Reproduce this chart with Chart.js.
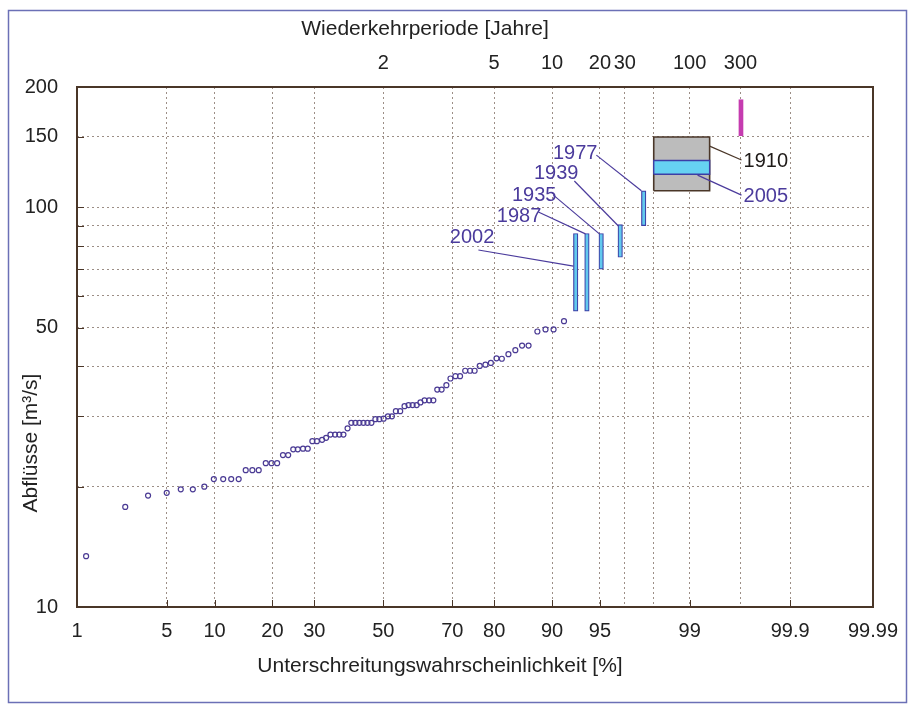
<!DOCTYPE html>
<html>
<head>
<meta charset="utf-8">
<script src="https://cdn.jsdelivr.net/npm/chart.js@4.4.1/dist/chart.umd.min.js"></script>
<style>
  html, body { margin: 0; padding: 0; background: #fff; }
  #wrap { width: 916px; height: 704px; }
</style>
</head>
<body>
<div id="wrap"><canvas id="chart_here" width="916" height="704"></canvas></div>
<script>
'use strict';
// probability plot of yearly flood peaks, with ranges for the big historic floods

// observed yearly maxima: plotting position [%] and discharge [m3/s]
var obsProb = [1.2, 2.5, 3.7, 5.0, 6.2, 7.4, 8.7, 9.9, 11.2, 12.4, 13.6,
  14.8, 16.0, 17.2, 18.6, 19.8, 21.0, 22.3, 23.5, 24.7, 25.8, 27.1, 28.3,
  29.5, 30.7, 32.1, 33.2, 34.4, 35.7, 36.9, 38.1, 39.3, 40.4, 41.6, 42.8, 44.0, 45.2, 46.4, 47.6, 48.8,
  50.1, 51.4, 52.6, 53.8, 55.1, 56.4, 57.6, 58.8, 60.0, 61.1, 62.3, 63.6, 64.8, 65.9,
  67.1, 68.4, 69.5, 70.8, 72.0, 73.3, 74.5, 75.6, 76.8, 78.1, 79.3, 80.5, 81.6, 82.9, 84.2, 85.4, 86.5, 87.9, 89.1, 90.2, 91.5];
var obsFlow = [13.4, 17.8, 19.0, 19.3, 19.7, 19.7, 20.0, 20.9, 20.9, 20.9, 20.9,
  22.0, 22.0, 22.0, 22.9, 22.9, 22.9, 24.0, 24.0, 24.8, 24.8, 24.9, 24.9,
  26.0, 26.0, 26.2, 26.5, 27.0, 27.0, 27.0, 27.0, 28.0, 28.9, 28.9, 28.9, 28.9, 28.9, 28.9, 29.5, 29.5,
  29.6, 30.0, 30.0, 30.9, 30.9, 31.8, 32.0, 32.0, 32.0, 32.5, 32.9, 32.9, 32.9, 35.0,
  35.0, 35.9, 37.3, 37.8, 37.8, 39.0, 39.0, 39.0, 40.1, 40.4, 40.8, 41.9, 41.8, 42.9, 43.9, 45.1, 45.1, 48.9, 49.5, 49.5, 51.9];

// historic floods given as a range
var floodYears = ['2002', '1987', '1935', '1939', '1977'];
var floodProb = [92.8, 93.9, 95.1, 96.4, 97.6];
var floodLow = [55, 55, 70, 75, 90];
var floodHigh = [86, 86, 86, 90.5, 110];

// 1910 box, 2005 band, 300 year estimate
var box1910Prob = [98.0, 99.34];
var box1910Flow = [110, 150];
var band2005Prob = [98.0, 99.34];
var band2005Flow = [121, 131];
var rare300Prob = 99.67;
var rare300Flow = [151, 186];

// axis ticks
var probTicks = [1, 5, 10, 20, 30, 50, 70, 80, 90, 95, 99, 99.9, 99.99];
var probLabels = ['1', '5', '10', '20', '30', '50', '70', '80', '90', '95', '99', '99.9', '99.99'];
var returnPeriods = [2, 5, 10, 20, 30, 50, 100, 300];
var returnLabels = ['2', '5', '10', '20', '30', '', '100', '300'];
var flowGrid = [10, 20, 30, 40, 50, 60, 70, 80, 90, 100, 150, 200];
var flowLabels = [10, 50, 100, 150, 200];

var PURPLE = '#4b3b9c';
var FRAME = '#4a3628';
var FONT = "'Liberation Sans', Arial, sans-serif";

// normal quantile of a percentage (Acklam), used as the x transform
function probit(pct) {
  var p = pct / 100;
  var a = [-3.969683028665376e+01, 2.209460984245205e+02, -2.759285104469687e+02, 1.383577518672690e+02, -3.066479806614716e+01, 2.506628277459239e+00];
  var b = [-5.447609879822406e+01, 1.615858368580409e+02, -1.556989798598866e+02, 6.680131188771972e+01, -1.328068155288572e+01];
  var c = [-7.784894002430293e-03, -3.223964580411365e-01, -2.400758277161838e+00, -2.549732539343734e+00, 4.374664141464968e+00, 2.938163982698783e+00];
  var d = [7.784695709041462e-03, 3.224671290700398e-01, 2.445134137142996e+00, 3.754408661907416e+00];
  var q, r;
  if (p < 0.02425) {
    q = Math.sqrt(-2 * Math.log(p));
    return (((((c[0]*q+c[1])*q+c[2])*q+c[3])*q+c[4])*q+c[5]) / ((((d[0]*q+d[1])*q+d[2])*q+d[3])*q+1);
  }
  if (p > 1 - 0.02425) {
    q = Math.sqrt(-2 * Math.log(1 - p));
    return -(((((c[0]*q+c[1])*q+c[2])*q+c[3])*q+c[4])*q+c[5]) / ((((d[0]*q+d[1])*q+d[2])*q+d[3])*q+1);
  }
  q = p - 0.5;
  r = q * q;
  return (((((a[0]*r+a[1])*r+a[2])*r+a[3])*r+a[4])*r+a[5])*q / (((((b[0]*r+b[1])*r+b[2])*r+b[3])*r+b[4])*r+1);
}

function periodToProb(t) {
  return 100 * (1 - 1 / t);
}

// rectangle helpers, both in data units
function topEdge(probs, flows) {
  return [{x: probit(probs[0]), y: flows[1]}, {x: probit(probs[1]), y: flows[1]}];
}
function outline(probs, flows) {
  var x0 = probit(probs[0]), x1 = probit(probs[1]);
  return [{x: x0, y: flows[0]}, {x: x0, y: flows[1]}, {x: x1, y: flows[1]}, {x: x1, y: flows[0]}, {x: x0, y: flows[0]}];
}

// labels with leader lines (positions in data units)
var notes = [
  {text: '1977', at: [94.80, 136.7], align: 'right', from: [94.72, 135.1], to: [97.50, 110], color: PURPLE},
  {text: '1939', at: [93.08, 121.8], align: 'right', from: [92.66, 116.4], to: [96.29, 89.8], color: PURPLE},
  {text: '1935', at: [90.57, 107.3], align: 'right', from: [90.18, 107.3], to: [94.96, 85.8], color: PURPLE},
  {text: '1987', at: [88.50, 94.6], align: 'right', from: [88.05, 97.3], to: [93.76, 85.8], color: PURPLE},
  {text: '2002', at: [80.05, 83.9], align: 'right', from: [76.49, 78.2], to: [92.56, 71.3], color: PURPLE},
  {text: '1910', at: [99.689, 130.2], align: 'left', from: [99.34, 142.3], to: [99.674, 131.3], color: '#1e1a18', line: FRAME},
  {text: '2005', at: [99.689, 106.4], align: 'left', from: [99.15, 120.4], to: [99.674, 107.3], color: PURPLE}
];

var decor = {
  id: 'decor',
  beforeDraw: function(chart) {
    var ctx = chart.ctx;
    ctx.save();
    ctx.fillStyle = '#fff';
    ctx.fillRect(0, 0, chart.width, chart.height);
    ctx.strokeStyle = '#6b70b6';
    ctx.lineWidth = 1.5;
    ctx.strokeRect(8.5, 10.5, 898, 692);
    ctx.restore();
  },
  beforeDatasetsDraw: function(chart) {
    var ctx = chart.ctx;
    var a = chart.chartArea;
    var xs = chart.scales.x, ys = chart.scales.y;
    ctx.save();
    ctx.strokeStyle = FRAME;
    ctx.lineWidth = 1;
    ctx.beginPath();
    probTicks.forEach(function(p) {
      var px = Math.round(xs.getPixelForValue(probit(p))) + 0.5;
      ctx.moveTo(px, a.bottom);
      ctx.lineTo(px, a.bottom - 7);
    });
    flowGrid.forEach(function(v) {
      var py = Math.round(ys.getPixelForValue(v)) + 0.5;
      ctx.moveTo(a.left, py);
      ctx.lineTo(a.left + 7, py);
    });
    ctx.stroke();
    ctx.lineWidth = 2;
    ctx.strokeRect(a.left, a.top, a.right - a.left, a.bottom - a.top);
    ctx.restore();
  },
  afterDatasetsDraw: function(chart) {
    var ctx = chart.ctx;
    var xs = chart.scales.x, ys = chart.scales.y;
    ctx.save();
    ctx.font = '20px ' + FONT;
    ctx.textBaseline = 'middle';
    notes.forEach(function(n) {
      ctx.strokeStyle = n.line || n.color;
      ctx.lineWidth = 1.2;
      ctx.beginPath();
      ctx.moveTo(xs.getPixelForValue(probit(n.from[0])), ys.getPixelForValue(n.from[1]));
      ctx.lineTo(xs.getPixelForValue(probit(n.to[0])), ys.getPixelForValue(n.to[1]));
      ctx.stroke();
      ctx.fillStyle = n.color;
      ctx.textAlign = n.align;
      ctx.fillText(n.text, xs.getPixelForValue(probit(n.at[0])), ys.getPixelForValue(n.at[1]));
    });
    ctx.restore();
  },
  afterDraw: function(chart) {
    var ctx = chart.ctx;
    ctx.save();
    ctx.fillStyle = '#222';
    ctx.font = '21px ' + FONT;
    ctx.textAlign = 'center';
    ctx.textBaseline = 'middle';
    ctx.fillText('Wiederkehrperiode [Jahre]', 425, 29);
    ctx.fillText('Unterschreitungswahrscheinlichkeit [%]', 440, 666);
    ctx.translate(31, 443);
    ctx.rotate(-Math.PI / 2);
    ctx.fillText('Abflüsse [m³/s]', 0, 0);
    ctx.restore();
  }
};

// offset false: the bar dataset would otherwise shift the x grid between ticks
var gridOpts = {color: '#9c8e86', lineWidth: 1, drawTicks: false, offset: false};
var borderOpts = {display: false, dash: [2, 3]};
var tickFont = {family: FONT, size: 20};

function fixX(height) {
  return function(s) {
    s.height = height;
    s.paddingLeft = 0;
    s.paddingRight = 0;
  };
}

var floodBars = floodProb.map(function(p, i) {
  return {x: probit(p), y: [floodLow[i], floodHigh[i]]};
});
floodBars.push({x: probit(rare300Prob), y: rare300Flow});
var barFill = floodYears.map(function() { return '#62c9ee'; }).concat(['#c53cb0']);
var barEdge = floodYears.map(function() { return '#3c3ea6'; }).concat(['#c53cb0']);

var ctx = document.getElementById('chart_here').getContext('2d');
var floodChart = new Chart(ctx, {
  type: 'scatter',
  data: {
    datasets: [
      {
        type: 'scatter',
        label: 'Jahreshöchstwerte',
        data: obsProb.map(function(p, i) { return {x: probit(p), y: obsFlow[i]}; }),
        pointRadius: 2.5,
        pointBorderWidth: 1.2,
        pointBorderColor: '#4a3a94',
        pointBackgroundColor: 'rgba(0,0,0,0)',
        order: 1
      },
      {
        type: 'bar',
        label: 'Hochwasser',
        data: floodBars,
        backgroundColor: barFill,
        borderColor: barEdge,
        borderWidth: 1.2,
        borderSkipped: false,
        barThickness: 4.5,
        order: 2
      },
      {
        type: 'line',
        label: '2005',
        data: outline(band2005Prob, band2005Flow),
        borderColor: '#3c3ea6',
        borderWidth: 1.4,
        pointRadius: 0,
        fill: false,
        order: 3
      },
      {
        type: 'line',
        label: '2005 fill',
        data: topEdge(band2005Prob, band2005Flow),
        backgroundColor: '#66d2f2',
        borderWidth: 0,
        pointRadius: 0,
        fill: {value: band2005Flow[0]},
        order: 4
      },
      {
        type: 'line',
        label: '1910',
        data: outline(box1910Prob, box1910Flow),
        borderColor: FRAME,
        borderWidth: 1.6,
        pointRadius: 0,
        fill: false,
        order: 5
      },
      {
        type: 'line',
        label: '1910 fill',
        data: topEdge(box1910Prob, box1910Flow),
        backgroundColor: '#bcbcbc',
        borderWidth: 0,
        pointRadius: 0,
        fill: {value: box1910Flow[0]},
        order: 6
      }
    ]
  },
  options: {
    responsive: false,
    animation: false,
    layout: {padding: {left: 0, right: 43, top: 0, bottom: 0}},
    plugins: {legend: {display: false}, tooltip: {enabled: false}},
    scales: {
      x: {
        type: 'linear',
        position: 'bottom',
        offset: false,
        min: probit(1),
        max: probit(99.99),
        afterBuildTicks: function(s) {
          s.ticks = probTicks.map(function(p) { return {value: probit(p)}; });
        },
        afterFit: fixX(97),
        grid: gridOpts,
        border: borderOpts,
        ticks: {
          autoSkip: false,
          maxRotation: 0,
          padding: 12,
          color: '#222',
          font: tickFont,
          callback: function(v, i) { return probLabels[i]; }
        }
      },
      x2: {
        type: 'linear',
        position: 'top',
        offset: false,
        min: probit(1),
        max: probit(99.99),
        afterBuildTicks: function(s) {
          s.ticks = returnPeriods.map(function(t) { return {value: probit(periodToProb(t))}; });
        },
        afterFit: fixX(87),
        grid: gridOpts,
        border: borderOpts,
        ticks: {
          autoSkip: false,
          maxRotation: 0,
          padding: 12,
          color: '#222',
          font: tickFont,
          callback: function(v, i) { return returnLabels[i]; }
        }
      },
      y: {
        type: 'logarithmic',
        position: 'left',
        min: 10,
        max: 200,
        afterBuildTicks: function(s) {
          s.ticks = flowGrid.map(function(v) { return {value: v}; });
        },
        afterFit: function(s) {
          s.width = 77;
          s.paddingTop = 0;
          s.paddingBottom = 0;
        },
        grid: gridOpts,
        border: borderOpts,
        ticks: {
          autoSkip: false,
          padding: 19,
          color: '#222',
          font: tickFont,
          callback: function(v) { return flowLabels.indexOf(v) >= 0 ? String(v) : ''; }
        }
      }
    }
  },
  plugins: [decor]
});
</script>
</body>
</html>
